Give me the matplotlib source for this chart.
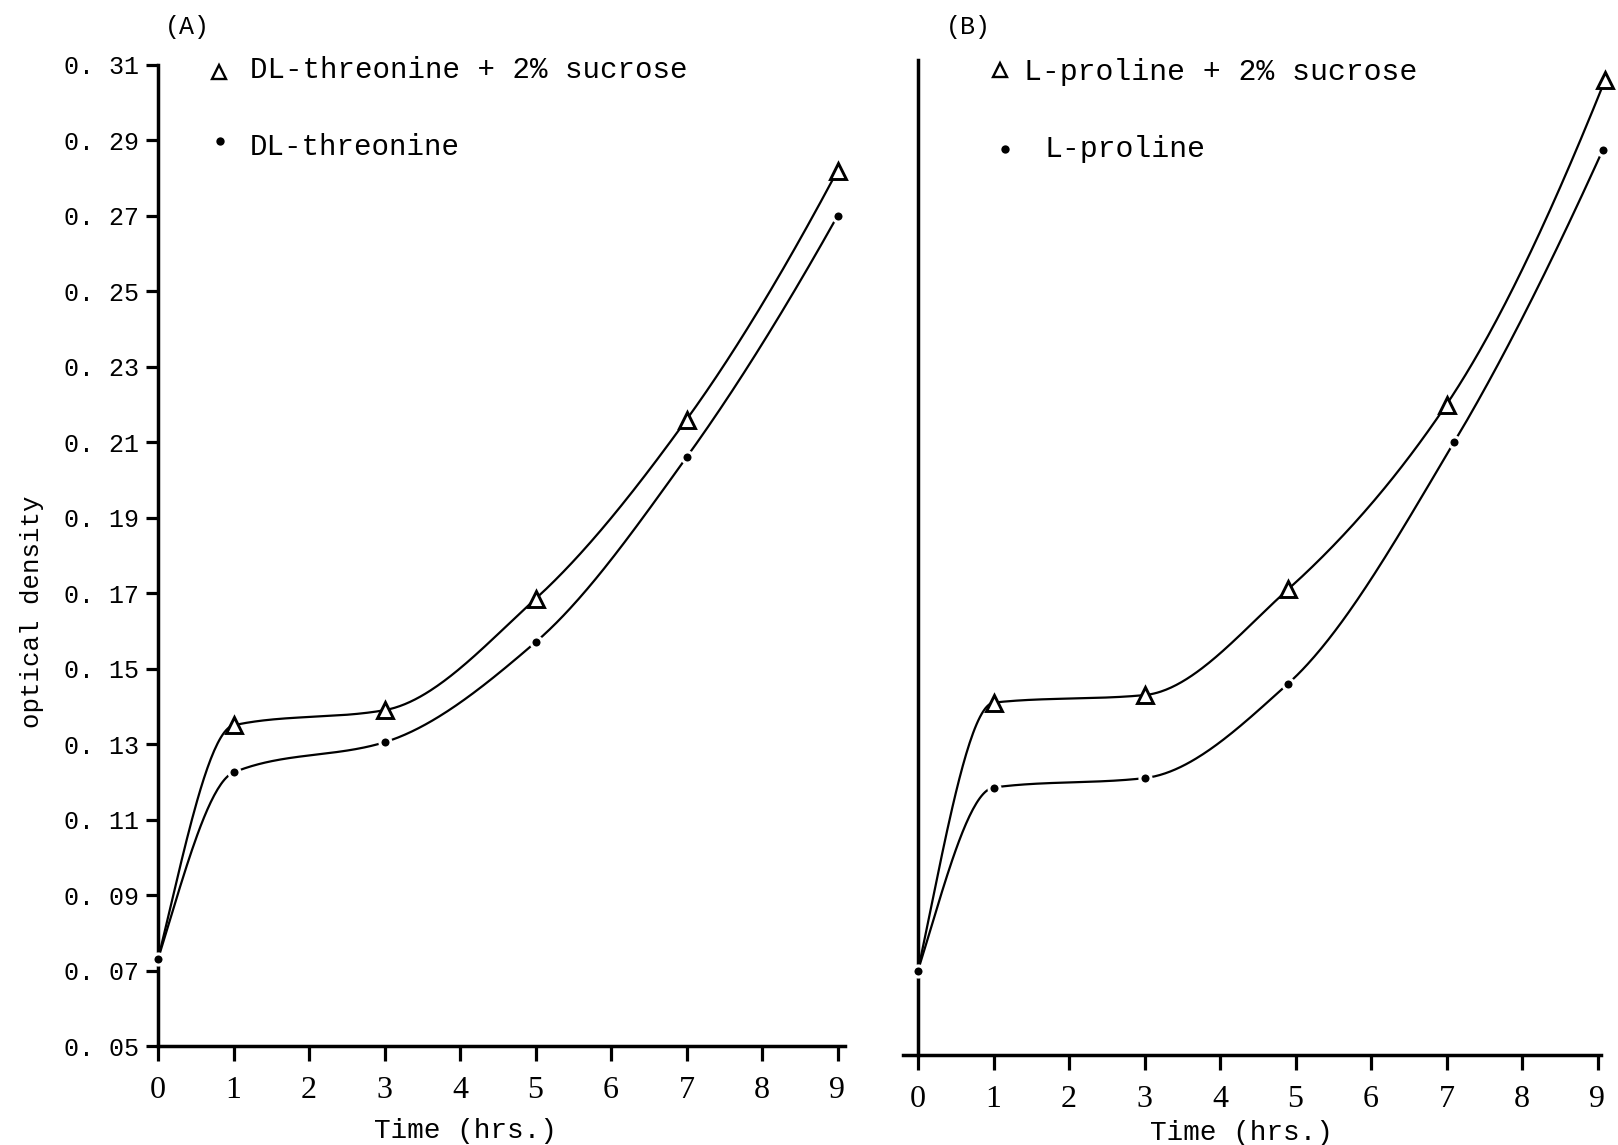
import numpy as np
import matplotlib
matplotlib.use("Agg")
import matplotlib.pyplot as plt
from matplotlib.lines import Line2D
from matplotlib.ticker import FuncFormatter

# ---- data ----
time_hrs = [0, 1, 3, 5, 7, 9]
threonine_sucrose = [0.073, 0.135, 0.139, 0.1685, 0.216, 0.282]
threonine = [0.073, 0.1225, 0.1305, 0.157, 0.206, 0.270]
proline_time_tri = [0, 1, 3, 4.9, 7, 9.1]
proline_sucrose = [0.070, 0.141, 0.143, 0.171, 0.220, 0.306]
proline_time_dot = [0, 1, 3, 4.9, 7.1, 9.07]
proline = [0.070, 0.1185, 0.121, 0.146, 0.210, 0.2875]
x_ticks = [0, 1, 2, 3, 4, 5, 6, 7, 8, 9]
y_ticks = [0.05, 0.07, 0.09, 0.11, 0.13, 0.15, 0.17, 0.19, 0.21, 0.23, 0.25, 0.27, 0.29, 0.31]
labels_A = ["DL-threonine + 2% sucrose", "DL-threonine"]
labels_B = ["L-proline + 2% sucrose", "L-proline"]


def pchip(x, y, xs):
    x = np.asarray(x, float); y = np.asarray(y, float)
    h = np.diff(x); d = np.diff(y) / h
    n = len(x); m = np.zeros(n)
    for k in range(1, n - 1):
        if d[k - 1] * d[k] <= 0:
            m[k] = 0
        else:
            w1 = 2 * h[k] + h[k - 1]; w2 = h[k] + 2 * h[k - 1]
            m[k] = (w1 + w2) / (w1 / d[k - 1] + w2 / d[k])
    def endslope(h0, h1, d0, d1):
        s = ((2 * h0 + h1) * d0 - h0 * d1) / (h0 + h1)
        if np.sign(s) != np.sign(d0):
            s = 0
        elif np.sign(d0) != np.sign(d1) and abs(s) > abs(3 * d0):
            s = 3 * d0
        return s
    m[0] = endslope(h[0], h[1], d[0], d[1])
    m[-1] = endslope(h[-1], h[-2], d[-1], d[-2])
    xs = np.asarray(xs, float)
    idx = np.clip(np.searchsorted(x, xs) - 1, 0, n - 2)
    t = (xs - x[idx]) / h[idx]
    h00 = 2 * t**3 - 3 * t**2 + 1; h10 = t**3 - 2 * t**2 + t
    h01 = -2 * t**3 + 3 * t**2; h11 = t**3 - t**2
    return h00 * y[idx] + h10 * h[idx] * m[idx] + h01 * y[idx + 1] + h11 * h[idx] * m[idx + 1]


W, H = 1618, 1145
fig = plt.figure(figsize=(W / 100, H / 100), dpi=100)
fig.patch.set_facecolor("white")

MONO = "Liberation Mono"
SERIF = "Liberation Serif"

# pixel layout (full-size reference)
unit = 75.5                     # px per hour
pxA0, pxB0 = 158, 918           # x = 0 positions
yA_bot, yA_top = 1046, 65
yB_bot, yB_top = 1055, 60
per_od = (yA_bot - yA_top) / 0.26   # px per OD unit

axA = fig.add_axes([pxA0 / W, 1 - yA_bot / H, 9.1 * unit / W, (yA_bot - yA_top) / H])
xB_lo, xB_hi = -0.2, 9.05
axB = fig.add_axes([(pxB0 + xB_lo * unit) / W, 1 - yB_bot / H,
                    (xB_hi - xB_lo) * unit / W, (yB_bot - yB_top) / H])

tri_kw = dict(marker="^", markersize=12, markerfacecolor="white", markeredgecolor="black",
              markeredgewidth=2.1, linestyle="none", zorder=4, clip_on=False)
dot_kw = dict(marker="o", markersize=8, markerfacecolor="black", markeredgecolor="white",
              markeredgewidth=2.2, linestyle="none", zorder=4, clip_on=False)


def draw(ax, xt, yt, xd, yd):
    xs = np.linspace(0, xt[-1], 400)
    ax.plot(xs, pchip(xt, yt, xs), color="black", lw=1.6, zorder=2, clip_on=False)
    xs2 = np.linspace(0, xd[-1], 400)
    ax.plot(xs2, pchip(xd, yd, xs2), color="black", lw=1.6, zorder=2, clip_on=False)
    ax.plot(xt[1:], yt[1:], **tri_kw)
    ax.plot(xd, yd, **dot_kw)


draw(axA, time_hrs, threonine_sucrose, time_hrs, threonine)
draw(axB, proline_time_tri, proline_sucrose, proline_time_dot, proline)

for ax in (axA, axB):
    ax.spines["top"].set_visible(False)
    ax.spines["right"].set_visible(False)
    ax.spines["left"].set_linewidth(2.5)
    ax.spines["bottom"].set_linewidth(2.5)
    ax.set_xticks(x_ticks)
    ax.tick_params(axis="x", direction="out", length=10.5, width=2.3, pad=11,
                   labelsize=23)
    for lab in ax.get_xticklabels():
        lab.set_fontfamily(SERIF)
    ax.set_facecolor("none")

axA.set_xlim(0, 9.1)
axA.set_ylim(0.05, 0.31)
axA.set_yticks(y_ticks)
axA.yaxis.set_major_formatter(FuncFormatter(lambda v, p: "0. %02d" % round(v * 100)))
axA.tick_params(axis="y", direction="out", length=9, width=2.3, pad=5, labelsize=18)
for lab in axA.get_yticklabels():
    lab.set_fontfamily(MONO)

# panel B shares panel A's vertical scale; its axis line sits a little lower
axB.set_xlim(xB_lo, xB_hi)
axB.set_ylim(0.05 - (yB_bot - yA_bot) / per_od, 0.31 + (yA_top - yB_top) / per_od)
axB.spines["left"].set_position(("data", 0))
axB.set_yticks([])


def px(x, y):
    return x / W, 1 - y / H


# legend entries (key markers + typed labels)
leg_tri = dict(marker="^", markersize=10.5, markerfacecolor="white", markeredgecolor="black",
               markeredgewidth=1.7, linestyle="none", transform=fig.transFigure)
leg_dot = dict(marker="o", markersize=6, markerfacecolor="black", markeredgecolor="black",
               markeredgewidth=0, linestyle="none", transform=fig.transFigure)
for (mx, my), kw in (((219, 72), leg_tri), ((220, 141), leg_dot),
                     ((1000, 70), leg_tri), ((1005, 149), leg_dot)):
    fx, fy = px(mx, my)
    fig.add_artist(Line2D([fx], [fy], **kw))

fig.text(*px(250, 78), labels_A[0], family=MONO, size=21, ha="left", va="baseline")
fig.text(*px(250, 155), labels_A[1], family=MONO, size=21, ha="left", va="baseline")
fig.text(*px(1024, 80), labels_B[0], family=MONO, size=21.5, ha="left", va="baseline")
fig.text(*px(1045, 157), labels_B[1], family=MONO, size=21.5, ha="left", va="baseline")

fig.text(*px(465, 1138), "Time (hrs.)", family=MONO, size=20, ha="center", va="baseline")
fig.text(*px(1241, 1140), "Time (hrs.)", family=MONO, size=20, ha="center", va="baseline")
fig.text(*px(32, 612), "optical density", family=MONO, size=18.5,
         rotation=90, ha="center", va="center")
fig.text(*px(187, 27), "(A)", family=MONO, size=18, ha="center", va="center")
fig.text(*px(968, 27), "(B)", family=MONO, size=18, ha="center", va="center")

fig.savefig("out.png", dpi=100, facecolor="white")
